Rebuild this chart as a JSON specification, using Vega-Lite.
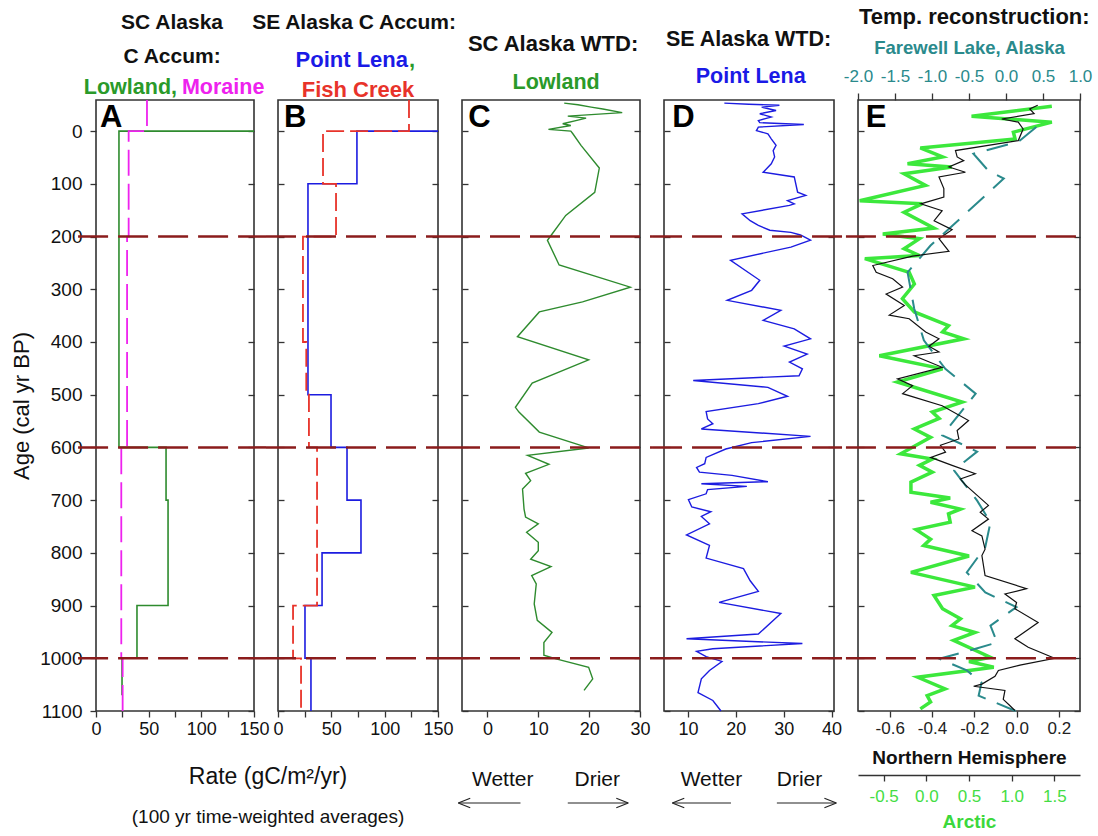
{
"$schema":"https://vega.github.io/schema/vega-lite/v6.json",
"padding":{"left":9,"top":5,"right":5,"bottom":5},
"spacing":24,
"bounds":"flush",
"config":{"font":"Liberation Sans","view":{"stroke":"#333","strokeWidth":1.6},
 "axis":{"grid":false,"domain":false,"tickColor":"#333","tickWidth":1.3,"tickSize":6,"labelColor":"#111","labelFontSize":18,"labelPadding":3,"labelFlush":false,"labelOverlap":false,"labelFont":"Liberation Sans","titleFont":"Liberation Sans"},
 "text":{"font":"Liberation Sans"}},
"datasets":{
 "hl":[{"age":200},{"age":600},{"age":1000}],
 "aLow":[{"age":0,"v":150},{"age":0,"v":21.8},{"age":600,"v":21.8},{"age":600,"v":66.5},{"age":700,"v":66.5},{"age":700,"v":68.4},{"age":900,"v":68.4},{"age":900,"v":38.9},{"age":1000,"v":38.9},{"age":1000,"v":24.7},{"age":1070,"v":24.7}],
 "aMor":[{"age":-59,"v":48.4},{"age":0,"v":48.4},{"age":0,"v":31},{"age":200,"v":31},{"age":200,"v":29.5},{"age":600,"v":29.5},{"age":600,"v":24},{"age":1000,"v":24},{"age":1000,"v":25.3},{"age":1100,"v":25.3}],
 "bPL":[{"age":0,"v":150},{"age":0,"v":74},{"age":100,"v":74},{"age":100,"v":28.1},{"age":500,"v":28.1},{"age":500,"v":49.7},{"age":600,"v":49.7},{"age":600,"v":64.7},{"age":700,"v":64.7},{"age":700,"v":77.8},{"age":800,"v":77.8},{"age":800,"v":41.3},{"age":900,"v":41.3},{"age":900,"v":25.3},{"age":1000,"v":25.3},{"age":1000,"v":30.9},{"age":1100,"v":30.9}],
 "bFC":[{"age":-59,"v":122.8},{"age":0,"v":122.8},{"age":0,"v":42.2},{"age":100,"v":42.2},{"age":100,"v":54.4},{"age":200,"v":54.4},{"age":200,"v":23.4},{"age":400,"v":23.4},{"age":400,"v":26.5},{"age":500,"v":26.5},{"age":500,"v":29},{"age":600,"v":29},{"age":600,"v":36.6},{"age":900,"v":36.6},{"age":900,"v":14.1},{"age":1000,"v":14.1},{"age":1000,"v":21.6},{"age":1100,"v":21.6}],
 "cLow":[{"age":-53,"v":15.1},{"age":-50,"v":17.8},{"age":-45.5,"v":20.4},{"age":-42,"v":22.7},{"age":-35,"v":26.5},{"age":-28.5,"v":15.8},{"age":-24.7,"v":19.4},{"age":-20.9,"v":17.8},{"age":-13.9,"v":14.8},{"age":-10.7,"v":16.4},{"age":-3.2,"v":12.0},{"age":0,"v":16.4},{"age":5,"v":16.8},{"age":27,"v":18.4},{"age":70,"v":22.0},{"age":116,"v":21.1},{"age":160,"v":15.4},{"age":198,"v":12.5},{"age":207,"v":11.8},{"age":254,"v":14.1},{"age":296,"v":28.1},{"age":324,"v":18.7},{"age":343,"v":10.2},{"age":390,"v":5.9},{"age":434,"v":19.9},{"age":478,"v":8.8},{"age":524,"v":5.5},{"age":533,"v":6.2},{"age":571,"v":10.2},{"age":601,"v":19.9},{"age":615,"v":7.9},{"age":632,"v":12.1},{"age":649,"v":7.5},{"age":663,"v":8.5},{"age":679,"v":6.9},{"age":717,"v":7.2},{"age":732,"v":7.5},{"age":745,"v":10.0},{"age":761,"v":7.7},{"age":780,"v":10.0},{"age":796,"v":10.0},{"age":812,"v":8.5},{"age":826,"v":12.5},{"age":843,"v":8.7},{"age":859,"v":9.6},{"age":897,"v":9.2},{"age":928,"v":9.8},{"age":951,"v":12.7},{"age":970,"v":11.1},{"age":994,"v":11.1},{"age":1001,"v":13.5},{"age":1017,"v":19.9},{"age":1039,"v":20.7},{"age":1061,"v":19.0}],
 "dPL":[{"age":-53,"v":17.6},{"age":-51,"v":22.7},{"age":-49,"v":29.1},{"age":-45.5,"v":25.4},{"age":-39,"v":28.4},{"age":-33,"v":25.0},{"age":-26.6,"v":27.4},{"age":-20,"v":24.7},{"age":-16,"v":25.0},{"age":-12.6,"v":34.2},{"age":-7.6,"v":24.7},{"age":-1,"v":24.3},{"age":5,"v":26.7},{"age":14.6,"v":27.4},{"age":27,"v":28.4},{"age":37,"v":27.8},{"age":49,"v":28.1},{"age":62,"v":27.4},{"age":78,"v":25.7},{"age":87,"v":32.2},{"age":116,"v":32.9},{"age":122,"v":34.6},{"age":132,"v":30.8},{"age":138,"v":32.2},{"age":141,"v":31.2},{"age":157,"v":21.3},{"age":170,"v":23.0},{"age":179,"v":24.7},{"age":188,"v":27.1},{"age":192,"v":31.5},{"age":197,"v":33.5},{"age":207,"v":35.6},{"age":220,"v":31.5},{"age":245,"v":18.9},{"age":283,"v":25.0},{"age":302,"v":23.3},{"age":321,"v":18.2},{"age":340,"v":29.4},{"age":359,"v":25.7},{"age":375,"v":32.2},{"age":394,"v":35.6},{"age":408,"v":30.1},{"age":423,"v":34.9},{"age":438,"v":31.2},{"age":451,"v":33.9},{"age":464,"v":33.2},{"age":473,"v":11.1},{"age":486,"v":26.7},{"age":503,"v":30.8},{"age":517,"v":24.7},{"age":532,"v":13.8},{"age":546,"v":14.1},{"age":555,"v":15.2},{"age":565,"v":12.8},{"age":579,"v":35.6},{"age":591,"v":23.3},{"age":603,"v":17.9},{"age":619,"v":13.8},{"age":631,"v":13.5},{"age":638,"v":11.8},{"age":647,"v":12.4},{"age":653,"v":19.2},{"age":665,"v":26.7},{"age":669,"v":12.8},{"age":674,"v":22.3},{"age":680,"v":14.1},{"age":688,"v":13.8},{"age":699,"v":10.1},{"age":713,"v":10.8},{"age":722,"v":14.8},{"age":731,"v":12.8},{"age":745,"v":14.5},{"age":766,"v":9.7},{"age":786,"v":14.5},{"age":810,"v":13.8},{"age":830,"v":21.6},{"age":853,"v":23.0},{"age":873,"v":24.7},{"age":894,"v":16.5},{"age":915,"v":29.4},{"age":954,"v":24.7},{"age":963,"v":9.7},{"age":972,"v":33.9},{"age":982,"v":15.2},{"age":987,"v":11.8},{"age":997,"v":13.8},{"age":1006,"v":17.1},{"age":1023,"v":14.5},{"age":1039,"v":12.8},{"age":1065,"v":12.1},{"age":1080,"v":15.2},{"age":1100,"v":16.9}],
 "eNH":[{"age":-49,"v":0.1},{"age":-42,"v":0.062},{"age":-33,"v":0.083},{"age":-23,"v":-0.07},{"age":-17,"v":0.008},{"age":-4,"v":0.031},{"age":18,"v":0.008},{"age":37,"v":-0.289},{"age":49,"v":-0.281},{"age":56,"v":-0.25},{"age":68,"v":-0.32},{"age":78,"v":-0.242},{"age":87,"v":-0.367},{"age":109,"v":-0.344},{"age":125,"v":-0.344},{"age":138,"v":-0.453},{"age":151,"v":-0.352},{"age":170,"v":-0.39},{"age":187,"v":-0.305},{"age":204,"v":-0.367},{"age":228,"v":-0.32},{"age":237,"v":-0.492},{"age":255,"v":-0.68},{"age":268,"v":-0.664},{"age":280,"v":-0.586},{"age":296,"v":-0.539},{"age":309,"v":-0.617},{"age":331,"v":-0.531},{"age":349,"v":-0.602},{"age":356,"v":-0.508},{"age":381,"v":-0.43},{"age":394,"v":-0.367},{"age":408,"v":-0.414},{"age":419,"v":-0.367},{"age":426,"v":-0.484},{"age":448,"v":-0.352},{"age":470,"v":-0.563},{"age":483,"v":-0.492},{"age":498,"v":-0.539},{"age":521,"v":-0.352},{"age":549,"v":-0.227},{"age":568,"v":-0.281},{"age":584,"v":-0.273},{"age":596,"v":-0.36},{"age":609,"v":-0.336},{"age":619,"v":-0.406},{"age":634,"v":-0.305},{"age":650,"v":-0.195},{"age":660,"v":-0.266},{"age":671,"v":-0.242},{"age":710,"v":-0.133},{"age":723,"v":-0.172},{"age":736,"v":-0.133},{"age":758,"v":-0.211},{"age":768,"v":-0.164},{"age":793,"v":-0.149},{"age":805,"v":-0.164},{"age":843,"v":-0.149},{"age":868,"v":0.047},{"age":878,"v":-0.055},{"age":894,"v":0.0},{"age":906,"v":-0.008},{"age":932,"v":0.102},{"age":963,"v":-0.008},{"age":979,"v":0.055},{"age":1000,"v":0.18},{"age":1013,"v":0.016},{"age":1023,"v":-0.086},{"age":1034,"v":-0.102},{"age":1049,"v":-0.164},{"age":1053,"v":-0.203},{"age":1061,"v":-0.055},{"age":1078,"v":-0.063},{"age":1090,"v":-0.031},{"age":1099,"v":-0.008}],
 "eArc":[{"age":-47,"v":1.47},{"age":-28,"v":0.53},{"age":-17,"v":1.47},{"age":2,"v":1.02},{"age":15,"v":1.04},{"age":32,"v":-0.07},{"age":49,"v":0.19},{"age":62,"v":-0.22},{"age":68,"v":0.30},{"age":81,"v":-0.26},{"age":103,"v":-0.01},{"age":132,"v":-0.78},{"age":138,"v":-0.05},{"age":154,"v":-0.26},{"age":184,"v":0.09},{"age":195,"v":-0.51},{"age":204,"v":-0.08},{"age":223,"v":-0.26},{"age":236,"v":-0.08},{"age":242,"v":-0.72},{"age":268,"v":-0.20},{"age":290,"v":-0.14},{"age":318,"v":-0.28},{"age":343,"v":-0.14},{"age":369,"v":0.26},{"age":381,"v":0.19},{"age":394,"v":0.44},{"age":426,"v":-0.55},{"age":451,"v":0.19},{"age":476,"v":-0.34},{"age":514,"v":0.42},{"age":533,"v":0.07},{"age":545,"v":0.15},{"age":565,"v":-0.14},{"age":581,"v":0.05},{"age":612,"v":-0.30},{"age":622,"v":0.07},{"age":634,"v":-0.08},{"age":647,"v":0.07},{"age":666,"v":-0.18},{"age":685,"v":-0.18},{"age":696,"v":0.28},{"age":704,"v":0.05},{"age":717,"v":0.40},{"age":726,"v":0.26},{"age":742,"v":0.28},{"age":756,"v":-0.12},{"age":774,"v":0.05},{"age":786,"v":-0.03},{"age":806,"v":0.50},{"age":837,"v":-0.18},{"age":865,"v":0.57},{"age":881,"v":0.09},{"age":906,"v":0.19},{"age":925,"v":0.40},{"age":938,"v":0.30},{"age":951,"v":0.57},{"age":966,"v":0.32},{"age":998,"v":0.75},{"age":1006,"v":0.50},{"age":1017,"v":0.79},{"age":1036,"v":-0.10},{"age":1058,"v":0.22},{"age":1071,"v":0.01},{"age":1083,"v":0.05},{"age":1096,"v":-0.07}],
 "eFw":[{"age":-7.6,"v":0.41},{"age":20,"v":0.17},{"age":43,"v":-0.44},{"age":75,"v":-0.24},{"age":90,"v":-0.03},{"age":166,"v":-0.62},{"age":217,"v":-1.02},{"age":268,"v":-1.33},{"age":337,"v":-1.24},{"age":397,"v":-1.11},{"age":451,"v":-0.82},{"age":498,"v":-0.41},{"age":533,"v":-0.61},{"age":577,"v":-0.86},{"age":593,"v":-0.61},{"age":608,"v":-0.39},{"age":628,"v":-0.57},{"age":644,"v":-0.70},{"age":701,"v":-0.39},{"age":742,"v":-0.21},{"age":789,"v":-0.28},{"age":837,"v":-0.53},{"age":875,"v":-0.28},{"age":903,"v":0.14},{"age":938,"v":-0.21},{"age":970,"v":-0.12},{"age":982,"v":-0.41},{"age":1001,"v":-0.90},{"age":1023,"v":-0.53},{"age":1046,"v":-0.33},{"age":1071,"v":-0.37},{"age":1100,"v":0.13}]
},
"hconcat":[
{"width":158,"height":611,
 "layer":[
  {"data":{"name":"aLow"},"mark":{"type":"line","color":"#2e8b2e","strokeWidth":1.6},
   "encoding":{"x":{"field":"v","type":"quantitative","scale":{"domain":[0,150],"nice":false,"zero":false},"axis":{"orient":"bottom","values":[0,25,50,75,100,125,150],"labelExpr":"datum.value % 50 === 0 ? datum.label : ''","title":null}},
    "y":{"field":"age","type":"quantitative","scale":{"domain":[-59,1100],"reverse":true,"nice":false,"zero":false},"axis":{"orient":"left","values":[0,100,200,300,400,500,600,700,800,900,1000,1100],"format":"d","title":"Age (cal yr BP)","titleFontSize":22,"titleFontWeight":"normal","titleColor":"#111","titlePadding":6,"labelPadding":8,"labelFontSize":19}},
    "order":{"value":null}}},
  {"data":{"name":"aMor"},"mark":{"type":"line","color":"#ee22ee","strokeWidth":1.8,"strokeDash":[26,8]},
   "encoding":{"x":{"field":"v","type":"quantitative","scale":{"domain":[0,150],"nice":false,"zero":false},"axis":null},
    "y":{"field":"age","type":"quantitative","scale":{"domain":[-59,1100],"reverse":true,"nice":false,"zero":false},"axis":{"orient":"right","values":[0,100,200,300,400,500,600,700,800,900,1000,1100],"labels":false,"title":null,"tickSize":-6}},
    "order":{"value":null}}},
  {"data":{"name":"hl"},"mark":{"type":"rule","color":"#8b1c1c","strokeWidth":2.5,"strokeDash":[30,10]},
   "encoding":{"x":{"datum":-17,"type":"quantitative","scale":{"domain":[0,150],"nice":false,"zero":false},"axis":null},"x2":{"datum":161.4},
    "y":{"field":"age","type":"quantitative","scale":{"domain":[-59,1100],"reverse":true,"nice":false,"zero":false},"axis":null}}},
  {"data":{"values":[{}]},"mark":{"type":"text","text":"SC Alaska","fontSize":21,"fontWeight":"bold","color":"#111"},
   "encoding":{"x":{"datum":72.2,"type":"quantitative","axis":null},"y":{"datum":-205,"type":"quantitative","axis":null}}},
  {"data":{"values":[{}]},"mark":{"type":"text","text":"C Accum:","fontSize":21,"fontWeight":"bold","color":"#111"},
   "encoding":{"x":{"datum":72.2,"type":"quantitative","axis":null},"y":{"datum":-140.5,"type":"quantitative","axis":null}}},
  {"data":{"values":[{}]},"mark":{"type":"text","text":"Lowland,","fontSize":21.5,"fontWeight":"bold","color":"#2a9a2a","align":"right"},
   "encoding":{"x":{"datum":76.9,"type":"quantitative","axis":null},"y":{"datum":-81.8,"type":"quantitative","axis":null}}},
  {"data":{"values":[{}]},"mark":{"type":"text","text":"Moraine","fontSize":21.5,"fontWeight":"bold","color":"#ee22ee","align":"left"},
   "encoding":{"x":{"datum":81.6,"type":"quantitative","axis":null},"y":{"datum":-81.8,"type":"quantitative","axis":null}}},
  {"data":{"values":[{}]},"mark":{"type":"text","text":"A","fontSize":31,"fontWeight":"bold","color":"#000","align":"left"},
   "encoding":{"x":{"datum":3.8,"type":"quantitative","axis":null},"y":{"datum":-24,"type":"quantitative","axis":null}}},
  {"data":{"values":[{}]},"mark":{"type":"text","text":"Rate (gC/m²/yr)","fontSize":23,"color":"#111"},
   "encoding":{"x":{"datum":163.3,"type":"quantitative","axis":null},"y":{"datum":1225,"type":"quantitative","axis":null}}},
  {"data":{"values":[{}]},"mark":{"type":"text","text":"(100 yr time-weighted averages)","fontSize":19,"color":"#111"},
   "encoding":{"x":{"datum":163.3,"type":"quantitative","axis":null},"y":{"datum":1301,"type":"quantitative","axis":null}}}
 ],
 "resolve":{"axis":{"x":"independent","y":"independent"}}},
{"width":160,"height":611,
 "layer":[
  {"data":{"name":"bPL"},"mark":{"type":"line","color":"#1c1ce0","strokeWidth":1.6},
   "encoding":{"x":{"field":"v","type":"quantitative","scale":{"domain":[0,150],"nice":false,"zero":false},"axis":{"orient":"bottom","values":[0,25,50,75,100,125,150],"labelExpr":"datum.value % 50 === 0 ? datum.label : ''","title":null}},
    "y":{"field":"age","type":"quantitative","scale":{"domain":[-59,1100],"reverse":true,"nice":false,"zero":false},"axis":{"orient":"left","values":[0,100,200,300,400,500,600,700,800,900,1000,1100],"labels":false,"title":null,"tickSize":-6}},
    "order":{"value":null}}},
  {"data":{"name":"bFC"},"mark":{"type":"line","color":"#e8332a","strokeWidth":1.8,"strokeDash":[18,6]},
   "encoding":{"x":{"field":"v","type":"quantitative","scale":{"domain":[0,150],"nice":false,"zero":false},"axis":null},
    "y":{"field":"age","type":"quantitative","scale":{"domain":[-59,1100],"reverse":true,"nice":false,"zero":false},"axis":{"orient":"right","values":[0,100,200,300,400,500,600,700,800,900,1000,1100],"labels":false,"title":null,"tickSize":-6}},
    "order":{"value":null}}},
  {"data":{"name":"hl"},"mark":{"type":"rule","color":"#8b1c1c","strokeWidth":2.5,"strokeDash":[30,10]},
   "encoding":{"x":{"datum":-11.25,"type":"quantitative","scale":{"domain":[0,150],"nice":false,"zero":false},"axis":null},"x2":{"datum":161.25},
    "y":{"field":"age","type":"quantitative","scale":{"domain":[-59,1100],"reverse":true,"nice":false,"zero":false},"axis":null}}},
  {"data":{"values":[{}]},"mark":{"type":"text","text":"SE Alaska C Accum:","fontSize":21,"fontWeight":"bold","color":"#111"},
   "encoding":{"x":{"datum":71.3,"type":"quantitative","axis":null},"y":{"datum":-205,"type":"quantitative","axis":null}}},
  {"data":{"values":[{}]},"mark":{"type":"text","text":"Point Lena","fontSize":22,"fontWeight":"bold","color":"#1a1ae6","align":"right"},
   "encoding":{"x":{"datum":121.9,"type":"quantitative","axis":null},"y":{"datum":-135,"type":"quantitative","axis":null}}},
  {"data":{"values":[{}]},"mark":{"type":"text","text":",","fontSize":22,"fontWeight":"bold","color":"#2a9a2a","align":"left"},
   "encoding":{"x":{"datum":122.8,"type":"quantitative","axis":null},"y":{"datum":-135,"type":"quantitative","axis":null}}},
  {"data":{"values":[{}]},"mark":{"type":"text","text":"Fish Creek","fontSize":22,"fontWeight":"bold","color":"#e8332a"},
   "encoding":{"x":{"datum":75,"type":"quantitative","axis":null},"y":{"datum":-78,"type":"quantitative","axis":null}}},
  {"data":{"values":[{}]},"mark":{"type":"text","text":"B","fontSize":31,"fontWeight":"bold","color":"#000","align":"left"},
   "encoding":{"x":{"datum":5.6,"type":"quantitative","axis":null},"y":{"datum":-24,"type":"quantitative","axis":null}}}
 ],
 "resolve":{"axis":{"x":"independent","y":"independent"}}},
{"width":178,"height":611,
 "layer":[
  {"data":{"name":"cLow"},"mark":{"type":"line","color":"#2e8b2e","strokeWidth":1.4},
   "encoding":{"x":{"field":"v","type":"quantitative","scale":{"domain":[-5,30],"nice":false,"zero":false},"axis":{"orient":"bottom","values":[0,10,20,30],"title":null}},
    "y":{"field":"age","type":"quantitative","scale":{"domain":[-59,1100],"reverse":true,"nice":false,"zero":false},"axis":{"orient":"left","values":[0,100,200,300,400,500,600,700,800,900,1000,1100],"labels":false,"title":null,"tickSize":-6}},
    "order":{"value":null}}},
  {"data":{"name":"hl"},"mark":{"type":"rule","color":"#8b1c1c","strokeWidth":2.5,"strokeDash":[30,10]},
   "encoding":{"x":{"datum":-7.36,"type":"quantitative","scale":{"domain":[-5,30],"nice":false,"zero":false},"axis":null},"x2":{"datum":32.36},
    "y":{"field":"age","type":"quantitative","scale":{"domain":[-59,1100],"reverse":true,"nice":false,"zero":false},"axis":{"orient":"right","values":[0,100,200,300,400,500,600,700,800,900,1000,1100],"labels":false,"title":null,"tickSize":-6}}}},
  {"data":{"values":[{}]},"mark":{"type":"text","text":"SC Alaska WTD:","fontSize":22,"fontWeight":"bold","color":"#111"},
   "encoding":{"x":{"datum":12.9,"type":"quantitative","axis":null},"y":{"datum":-165,"type":"quantitative","axis":null}}},
  {"data":{"values":[{}]},"mark":{"type":"text","text":"Lowland","fontSize":21.5,"fontWeight":"bold","color":"#2a9a2a"},
   "encoding":{"x":{"datum":13.5,"type":"quantitative","axis":null},"y":{"datum":-91,"type":"quantitative","axis":null}}},
  {"data":{"values":[{}]},"mark":{"type":"text","text":"C","fontSize":31,"fontWeight":"bold","color":"#000","align":"left"},
   "encoding":{"x":{"datum":-3.76,"type":"quantitative","axis":null},"y":{"datum":-24,"type":"quantitative","axis":null}}},
  {"data":{"values":[{}]},"mark":{"type":"text","text":"Wetter","fontSize":21,"color":"#111"},
   "encoding":{"x":{"datum":3.0,"type":"quantitative","axis":null},"y":{"datum":1231,"type":"quantitative","axis":null}}},
  {"data":{"values":[{}]},"mark":{"type":"text","text":"Drier","fontSize":21,"color":"#111"},
   "encoding":{"x":{"datum":21.6,"type":"quantitative","axis":null},"y":{"datum":1231,"type":"quantitative","axis":null}}},
  {"data":{"values":[{}]},"mark":{"type":"rule","color":"#222","strokeWidth":1.2},
   "encoding":{"x":{"datum":-5.74,"type":"quantitative","axis":null},"x2":{"datum":6.5},"y":{"datum":1274.5,"type":"quantitative","axis":null}}},
  {"data":{"values":[{}]},"mark":{"type":"point","shape":"M-1,0L1,-0.8M-1,0L1,0.8","size":144,"filled":false,"color":"#222","strokeWidth":1.2,"opacity":1},
   "encoding":{"x":{"datum":-4.56,"type":"quantitative","axis":null},"y":{"datum":1274.5,"type":"quantitative","axis":null}}},
  {"data":{"values":[{}]},"mark":{"type":"rule","color":"#222","strokeWidth":1.2},
   "encoding":{"x":{"datum":15.8,"type":"quantitative","axis":null},"x2":{"datum":27.7},"y":{"datum":1274.5,"type":"quantitative","axis":null}}},
  {"data":{"values":[{}]},"mark":{"type":"point","shape":"M1,0L-1,-0.8M1,0L-1,0.8","size":144,"filled":false,"color":"#222","strokeWidth":1.2,"opacity":1},
   "encoding":{"x":{"datum":26.52,"type":"quantitative","axis":null},"y":{"datum":1274.5,"type":"quantitative","axis":null}}}
 ],
 "resolve":{"axis":{"x":"independent","y":"independent"}}},
{"width":170,"height":611,
 "layer":[
  {"data":{"name":"dPL"},"mark":{"type":"line","color":"#1c1ce0","strokeWidth":1.4},
   "encoding":{"x":{"field":"v","type":"quantitative","scale":{"domain":[5,40.5],"nice":false,"zero":false},"axis":{"orient":"bottom","values":[10,20,30,40],"title":null}},
    "y":{"field":"age","type":"quantitative","scale":{"domain":[-59,1100],"reverse":true,"nice":false,"zero":false},"axis":{"orient":"left","values":[0,100,200,300,400,500,600,700,800,900,1000,1100],"labels":false,"title":null,"tickSize":-6}},
    "order":{"value":null}}},
  {"data":{"name":"hl"},"mark":{"type":"rule","color":"#8b1c1c","strokeWidth":2.5,"strokeDash":[30,10]},
   "encoding":{"x":{"datum":2.5,"type":"quantitative","scale":{"domain":[5,40.5],"nice":false,"zero":false},"axis":null},"x2":{"datum":43.0},
    "y":{"field":"age","type":"quantitative","scale":{"domain":[-59,1100],"reverse":true,"nice":false,"zero":false},"axis":{"orient":"right","values":[0,100,200,300,400,500,600,700,800,900,1000,1100],"labels":false,"title":null,"tickSize":-6}}}},
  {"data":{"values":[{}]},"mark":{"type":"text","text":"SE Alaska WTD:","fontSize":21.5,"fontWeight":"bold","color":"#111"},
   "encoding":{"x":{"datum":22.65,"type":"quantitative","axis":null},"y":{"datum":-173,"type":"quantitative","axis":null}}},
  {"data":{"values":[{}]},"mark":{"type":"text","text":"Point Lena","fontSize":21.5,"fontWeight":"bold","color":"#1a1ae6"},
   "encoding":{"x":{"datum":23.1,"type":"quantitative","axis":null},"y":{"datum":-103,"type":"quantitative","axis":null}}},
  {"data":{"values":[{}]},"mark":{"type":"text","text":"D","fontSize":31,"fontWeight":"bold","color":"#000","align":"left"},
   "encoding":{"x":{"datum":6.73,"type":"quantitative","axis":null},"y":{"datum":-24,"type":"quantitative","axis":null}}},
  {"data":{"values":[{}]},"mark":{"type":"text","text":"Wetter","fontSize":21,"color":"#111"},
   "encoding":{"x":{"datum":14.9,"type":"quantitative","axis":null},"y":{"datum":1231,"type":"quantitative","axis":null}}},
  {"data":{"values":[{}]},"mark":{"type":"text","text":"Drier","fontSize":21,"color":"#111"},
   "encoding":{"x":{"datum":33.3,"type":"quantitative","axis":null},"y":{"datum":1231,"type":"quantitative","axis":null}}},
  {"data":{"values":[{}]},"mark":{"type":"rule","color":"#222","strokeWidth":1.2},
   "encoding":{"x":{"datum":6.73,"type":"quantitative","axis":null},"x2":{"datum":18.98},"y":{"datum":1274.5,"type":"quantitative","axis":null}}},
  {"data":{"values":[{}]},"mark":{"type":"point","shape":"M-1,0L1,-0.8M-1,0L1,0.8","size":144,"filled":false,"color":"#222","strokeWidth":1.2,"opacity":1},
   "encoding":{"x":{"datum":7.98,"type":"quantitative","axis":null},"y":{"datum":1274.5,"type":"quantitative","axis":null}}},
  {"data":{"values":[{}]},"mark":{"type":"rule","color":"#222","strokeWidth":1.2},
   "encoding":{"x":{"datum":28.57,"type":"quantitative","axis":null},"x2":{"datum":41.0},"y":{"datum":1274.5,"type":"quantitative","axis":null}}},
  {"data":{"values":[{}]},"mark":{"type":"point","shape":"M1,0L-1,-0.8M1,0L-1,0.8","size":144,"filled":false,"color":"#222","strokeWidth":1.2,"opacity":1},
   "encoding":{"x":{"datum":39.75,"type":"quantitative","axis":null},"y":{"datum":1274.5,"type":"quantitative","axis":null}}}
 ],
 "resolve":{"axis":{"x":"independent","y":"independent"}}},
{"width":222,"height":611,
 "layer":[
  {"data":{"name":"eArc"},"mark":{"type":"line","color":"#3ce83c","strokeWidth":3.5},
   "encoding":{"x":{"field":"v","type":"quantitative","scale":{"domain":[-0.8,1.8],"nice":false,"zero":false},"axis":{"orient":"bottom","offset":64,"values":[-0.5,0,0.5,1,1.5],"format":".1f","labelExpr":"replace(datum.label, '\u2212', '-')","title":"Arctic","titleFontSize":19,"titleFontWeight":"bold","titleColor":"#3cd83c","titlePadding":8,"domain":true,"domainColor":"#333","domainWidth":1.3,"labelFontSize":17,"labelColor":"#44dd44","labelPadding":7}},
    "y":{"field":"age","type":"quantitative","scale":{"domain":[-59,1100],"reverse":true,"nice":false,"zero":false},"axis":null},
    "order":{"value":null}}},
  {"data":{"name":"eFw"},"mark":{"type":"line","color":"#2a8a8c","strokeWidth":2,"strokeDash":[22,12]},
   "encoding":{"x":{"field":"v","type":"quantitative","scale":{"domain":[-2,1],"nice":false,"zero":false},"axis":{"orient":"top","values":[-2,-1.5,-1,-0.5,0,0.5,1],"format":".1f","labelExpr":"replace(datum.label, '\u2212', '-')","title":"Farewell Lake, Alaska","titleFontSize":18.5,"titleFontWeight":"bold","titleColor":"#2a8a8c","titlePadding":10,"tickSize":7,"labelFontSize":17,"labelColor":"#2a8a8c","labelPadding":8}},
    "y":{"field":"age","type":"quantitative","scale":{"domain":[-59,1100],"reverse":true,"nice":false,"zero":false},"axis":null},
    "order":{"value":null}}},
  {"layer":[
    {"data":{"name":"eNH"},"mark":{"type":"line","color":"#111","strokeWidth":1.2},
     "encoding":{"x":{"field":"v","type":"quantitative","scale":{"domain":[-0.75,0.3],"nice":false,"zero":false},"axis":{"orient":"bottom","values":[-0.6,-0.4,-0.2,0,0.2],"format":".1f","labelExpr":"replace(datum.label, '\u2212', '-')","title":"Northern Hemisphere","titleFontSize":19,"titleFontWeight":"bold","titleColor":"#111","titlePadding":12,"labelFontSize":17,"labelColor":"#222"}},
      "y":{"field":"age","type":"quantitative","scale":{"domain":[-59,1100],"reverse":true,"nice":false,"zero":false},"axis":{"orient":"left","values":[0,100,200,300,400,500,600,700,800,900,1000,1100],"labels":false,"title":null,"tickSize":-6}},
      "order":{"value":null}}},
    {"data":{"name":"hl"},"mark":{"type":"rule","color":"#8b1c1c","strokeWidth":2.5,"strokeDash":[30,10]},
     "encoding":{"x":{"datum":-0.807,"type":"quantitative","scale":{"domain":[-0.75,0.3],"nice":false,"zero":false},"axis":null},"x2":{"datum":0.324},
      "y":{"field":"age","type":"quantitative","scale":{"domain":[-59,1100],"reverse":true,"nice":false,"zero":false},"axis":{"orient":"right","values":[0,100,200,300,400,500,600,700,800,900,1000,1100],"labels":false,"title":null,"tickSize":-6}}}},
    {"data":{"values":[{}]},"mark":{"type":"text","text":"Temp. reconstruction:","fontSize":22,"fontWeight":"bold","color":"#111"},
     "encoding":{"x":{"datum":-0.2,"type":"quantitative","axis":null},"y":{"datum":-216,"type":"quantitative","axis":null}}},
    {"data":{"values":[{}]},"mark":{"type":"text","text":"E","fontSize":31,"fontWeight":"bold","color":"#000","align":"left"},
     "encoding":{"x":{"datum":-0.713,"type":"quantitative","axis":null},"y":{"datum":-24,"type":"quantitative","axis":null}}}
   ],
   "resolve":{"axis":{"x":"independent","y":"independent"}}}
 ],
 "resolve":{"scale":{"x":"independent"},"axis":{"x":"independent","y":"independent"}}}
]
}
